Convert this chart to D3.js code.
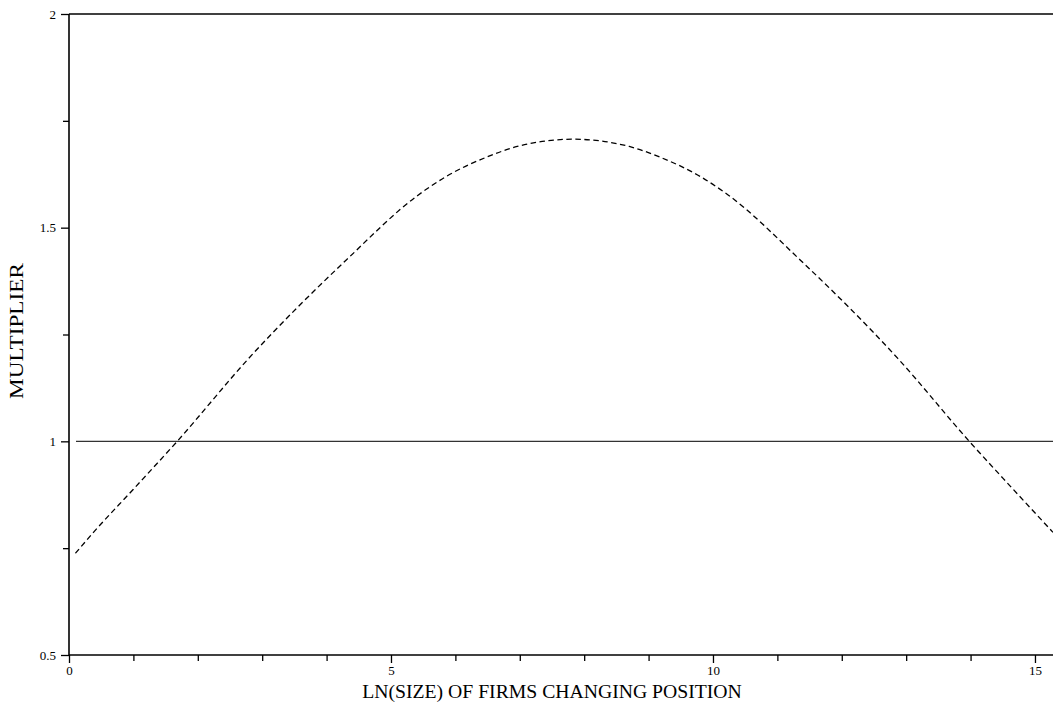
<!DOCTYPE html>
<html>
<head>
<meta charset="utf-8">
<script src="https://cdn.jsdelivr.net/npm/d3@7"></script>
<style>
  body { margin: 0; background: #fff; }
  svg { display: block; }
  text { font-family: "Liberation Serif", "Times New Roman", serif; fill: #000; }
</style>
</head>
<body>
<svg id="chart" width="1053" height="709"></svg>
<script>
// values
var sizeLn = [0.1, 0.38, 1.0, 1.68, 2.79, 4.31, 5.42, 5.86, 6.5, 6.96, 7.83, 8.7, 9.16, 9.8, 10.24, 11.35, 12.87, 13.98, 14.66, 15.28];
var multiplier = [0.738, 0.787, 0.888, 1.0, 1.194, 1.425, 1.576, 1.62, 1.666, 1.69, 1.707, 1.69, 1.666, 1.62, 1.576, 1.425, 1.194, 1.0, 0.888, 0.787];

var xMajor = [0, 5, 10, 15];
var xMinor = [1, 2, 3, 4, 6, 7, 8, 9, 11, 12, 13, 14];
var yMajor = [0.5, 1, 1.5, 2];
var yMinor = [0.75, 1.25, 1.75];
var refLine = 1;

var svg = d3.select("#chart");

var x = d3.scaleLinear().domain([0, 15.28]).range([69, 1053]);
var y = d3.scaleLinear().domain([0.5, 2]).range([655, 14]);

// top frame line at y = 2
svg.append("line")
  .attr("x1", x(0)).attr("x2", 1053)
  .attr("y1", y(2)).attr("y2", y(2))
  .attr("stroke", "#000").attr("stroke-width", 1.6);

// reference line at 1
svg.append("line")
  .attr("x1", x(0) + 7).attr("x2", 1053)
  .attr("y1", y(refLine)).attr("y2", y(refLine))
  .attr("stroke", "#333").attr("stroke-width", 1.4);

// x axis
var xAxis = svg.append("g")
  .attr("transform", "translate(0," + y(0.5) + ")")
  .call(d3.axisBottom(x).tickValues(xMajor).tickSize(8).tickPadding(3).tickFormat(d3.format("d")));
svg.append("g")
  .attr("transform", "translate(0," + y(0.5) + ")")
  .call(d3.axisBottom(x).tickValues(xMinor).tickSize(6).tickFormat(""))
  .select(".domain").remove();

// y axis
var yAxis = svg.append("g")
  .attr("transform", "translate(" + x(0) + ",0)")
  .call(d3.axisLeft(y).tickValues(yMajor).tickSize(8).tickPadding(5).tickFormat(function(d) { return d3.format("")(d); }));
svg.append("g")
  .attr("transform", "translate(" + x(0) + ",0)")
  .call(d3.axisLeft(y).tickValues(yMinor).tickSize(6).tickFormat(""))
  .select(".domain").remove();

svg.selectAll(".domain").attr("stroke", "#000").attr("stroke-width", 1.6);
svg.selectAll(".tick line").attr("stroke", "#000").attr("stroke-width", 1.3);
svg.selectAll(".tick text")
  .style("font-family", "'Liberation Serif', serif")
  .style("font-size", "13px");
// x axis domain stretches to the right edge
xAxis.select(".domain").attr("d", "M" + x(0) + ",0H1053");
yAxis.select(".domain").attr("d", "M0," + y(0.5) + "V" + y(2));

// dashed curve
var line = d3.line()
  .x(function(d, i) { return x(sizeLn[i]); })
  .y(function(d) { return y(d); })
  .curve(d3.curveMonotoneX);

svg.append("path")
  .datum(multiplier)
  .attr("d", line)
  .attr("fill", "none")
  .attr("stroke", "#000")
  .attr("stroke-width", 1.3)
  .attr("stroke-dasharray", "5.5,3.5");

// axis titles
svg.append("text")
  .attr("x", 552).attr("y", 698)
  .attr("text-anchor", "middle")
  .style("font-size", "19.7px")
  .text("LN(SIZE) OF FIRMS CHANGING POSITION");

svg.append("text")
  .attr("transform", "translate(23,331) rotate(-90)")
  .attr("text-anchor", "middle")
  .attr("textLength", 136)
  .attr("lengthAdjust", "spacingAndGlyphs")
  .style("font-size", "19.7px")
  .text("MULTIPLIER");
</script>
</body>
</html>
